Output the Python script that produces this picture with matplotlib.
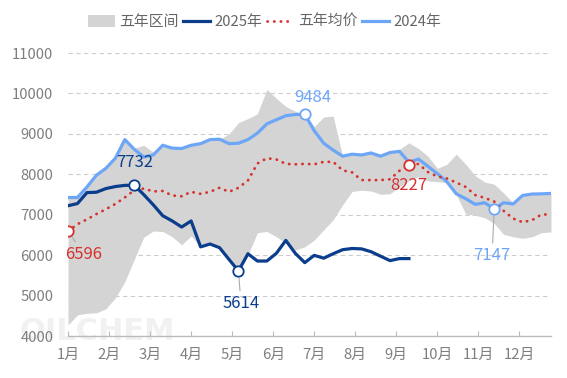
import matplotlib
matplotlib.use("Agg")
import matplotlib.pyplot as plt
from matplotlib.patches import Patch
from matplotlib.lines import Line2D
import numpy as np

plt.rcParams['font.family'] = ['Noto Sans CJK SC', 'DejaVu Sans']

# ---------------- data ----------------
months = ['1月', '2月', '3月', '4月', '5月', '6月', '7月', '8月', '9月', '10月', '11月', '12月']

y2024 = [7430, 7430, 7690, 7980, 8150, 8400, 8860, 8620, 8430, 8480,
         8720, 8650, 8640, 8720, 8760, 8860, 8870, 8760, 8770, 8860,
         9020, 9250, 9350, 9450, 9480, 9484, 9080, 8770, 8600, 8450,
         8500, 8480, 8530, 8450, 8540, 8570, 8300, 8380, 8200, 8020,
         7820, 7520, 7400, 7260, 7300, 7147, 7300, 7270, 7480, 7515,
         7520, 7530]

y2025 = [7226, 7280, 7550, 7560, 7650, 7700, 7730, 7732, 7500, 7250,
         6980, 6850, 6700, 6850, 6210, 6280, 6190, 5900, 5614, 6040,
         5860, 5860, 6050, 6370, 6050, 5820, 6000, 5930, 6040, 6140,
         6170, 6160, 6090, 5980, 5870, 5920, 5920]

avg5 = [6596, 6770, 6890, 7020, 7140, 7270, 7430, 7610, 7650, 7580,
        7590, 7480, 7460, 7570, 7520, 7570, 7670, 7570, 7670, 7850,
        8270, 8400, 8370, 8260, 8250, 8260, 8250, 8310, 8310, 8100,
        8050, 7860, 7860, 7860, 7880, 8090, 8227, 8260, 8060, 7950,
        7900, 7800, 7690, 7490, 7420, 7330, 7100, 6910, 6820, 6870,
        7010, 7010]

band_high = [7430, 7430, 7690, 7980, 8150, 8400, 8860, 8650, 8720, 8550,
             8720, 8650, 8640, 8720, 8760, 8860, 8870, 9000, 9280, 9380,
             9500, 10100, 9880, 9680, 9560, 9484, 9180, 9420, 9440, 8450,
             8500, 8480, 8530, 8450, 8540, 8620, 8780, 8640, 8450, 8150,
             8250, 8500, 8250, 7970, 7810, 7760, 7540, 7300, 7480, 7515,
             7520, 7530]

band_low = [4280, 4530, 4570, 4580, 4680, 4950, 5350, 5900, 6450, 6600,
            6590, 6460, 6260, 6480, 6210, 6280, 6190, 5900, 5614, 6010,
            6560, 6590, 6460, 6300, 6130, 6210, 6380, 6630, 6880, 7250,
            7580, 7610, 7590, 7510, 7520, 7700, 7850, 7940, 7840, 7820,
            7800, 7500, 7020, 6990, 6930, 6790, 6520, 6460, 6420, 6460,
            6560, 6580]

# highlighted points (index into series)
idx_avg = [0, 36]
idx_2025 = [7, 18]
idx_2024 = [25, 45]

# ---------------- style ----------------
C_BAND = '#d4d4d4'
C_2025 = '#0a3d8c'
C_2024 = '#6ea6f7'
C_AVG = '#d6312d'
C_TXT = '#7f7f7f'

W, H = 567, 378
fig = plt.figure(figsize=(W / 100, H / 100), dpi=100)
ax = fig.add_axes([68 / W, 1 - 336.3 / H, (551 - 68) / W, (336.3 - 53) / H])

xb = np.arange(len(band_high))
x24 = np.arange(len(y2024))
x25 = np.arange(len(y2025))
xa = np.arange(len(avg5))

# faint watermark
ax.text(-48 / 9.47, 4000 - 4 * 24.7, 'OILCHEM', fontsize=22, fontweight='bold',
        color='#f1f1f1', ha='left', va='baseline', clip_on=False, zorder=0.2,
        family=['DejaVu Sans'])

ax.fill_between(xb, band_low, band_high, color=C_BAND, lw=0, zorder=1)
ax.plot(x24, y2024, color=C_2024, lw=2.3, zorder=3, solid_joinstyle='round')
ax.plot(xa, avg5, color=C_AVG, lw=2.0, ls=(0, (0.1, 2.3)), dash_capstyle='round', zorder=4)
ax.plot(x25, y2025, color=C_2025, lw=2.3, zorder=5, solid_joinstyle='round')

ms = 7.5
ax.plot(xa[idx_avg], np.array(avg5)[idx_avg], 'o', ms=ms, mfc='white', mec=C_AVG, mew=1.3, zorder=7)
ax.plot(x25[idx_2025], np.array(y2025)[idx_2025], 'o', ms=ms, mfc='white', mec=C_2025, mew=1.3, zorder=7)
ax.plot(x24[idx_2024], np.array(y2024)[idx_2024], 'o', ms=ms, mfc='white', mec=C_2024, mew=1.3, zorder=7)

lead = dict(arrowstyle='-', color='#aaaaaa', lw=0.8, shrinkA=1, shrinkB=5)


def label(xv, yv, color, dx, dy, leader=False):
    ax.annotate(f'{yv:.0f}', xy=(xv, yv), xytext=(dx, dy), textcoords='offset points',
                ha='center', va='center', fontsize=12, color=color, zorder=8,
                arrowprops=lead if leader else None)


label(xa[idx_avg[0]], avg5[idx_avg[0]], C_AVG, 11.5, -16.6, leader=True)
label(xa[idx_avg[1]], avg5[idx_avg[1]], C_AVG, 0, -14.9)
label(x25[idx_2025[0]], y2025[idx_2025[0]], C_2025, 0, 16.6)
label(x25[idx_2025[1]], y2025[idx_2025[1]], C_2025, 1.8, -23.3, leader=True)
label(x24[idx_2024[0]], y2024[idx_2024[0]], C_2024, 5.8, 11.9)
label(x24[idx_2024[1]], y2024[idx_2024[1]], C_2024, -1.5, -33.6, leader=True)

# axes
ax.set_xlim(0, len(y2024) - 1)
ax.set_ylim(4000, 11000)
ax.set_yticks(np.arange(4000, 11001, 1000))
ax.set_xticks([i * 52 / 12 for i in range(12)])
ax.set_xticklabels(months)
ax.yaxis.grid(True, color='#cccccc', lw=0.8, ls=(0, (4, 3)))
ax.set_axisbelow(True)
for s in ['left', 'right', 'top']:
    ax.spines[s].set_visible(False)
ax.spines['bottom'].set_color('#bbbbbb')
ax.spines['bottom'].set_linewidth(1.0)
ax.tick_params(axis='y', length=0, pad=10.5, labelsize=10.7, labelcolor=C_TXT)
ax.tick_params(axis='x', direction='in', length=3.8, width=0.8, color='#bbbbbb',
               pad=8.5, labelsize=10.7, labelcolor=C_TXT)

# legend
handles = [Patch(facecolor=C_BAND, edgecolor='none'),
           Line2D([], [], color=C_2025, lw=2.3),
           Line2D([], [], color=C_AVG, lw=2.0, ls=(0, (0.1, 2.3)), dash_capstyle='round'),
           Line2D([], [], color=C_2024, lw=2.3)]
labels = ['五年区间', '2025年', '五年均价', '2024年']
leg = fig.legend(handles, labels, loc='center left', bbox_to_anchor=(82 / W, 1 - 22 / H),
                 ncol=4, frameon=False, fontsize=10.7, handlelength=1.8, handleheight=0.8,
                 handletextpad=0.3, columnspacing=0.3, borderaxespad=0)
for t in leg.get_texts():
    t.set_color('#666666')

fig.savefig('out.png', dpi=100, facecolor='white')
